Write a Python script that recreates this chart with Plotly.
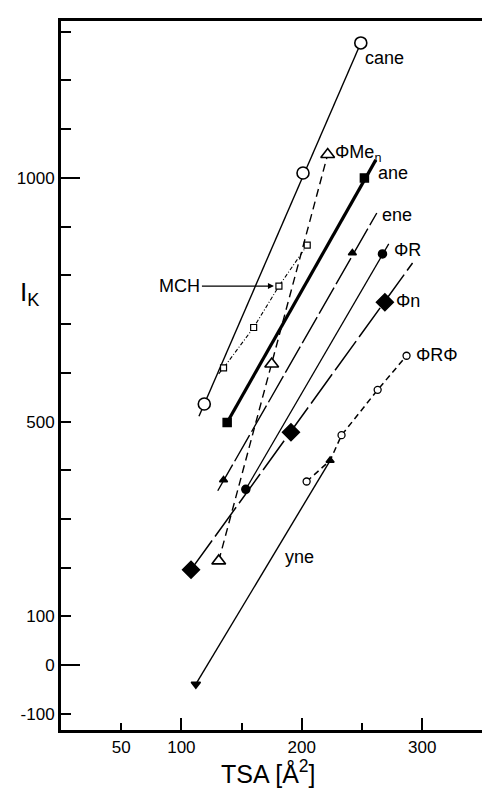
import plotly.graph_objects as go

# ---------------- data ----------------
# marker points of each series: TSA [A^2] and I_K
cane_x = [119, 201, 249]
cane_y = [536, 1010, 1277]
cane_line_x = [114.6, 249]
cane_line_y = [511, 1277]

phimen_x = [131, 175, 221.5]
phimen_y = [214, 618, 1048]
phimen_line_x = [131, 221.5]
phimen_line_y = [214, 1048]

ane_x = [138, 252]
ane_y = [498, 1000]
ane_line_x = [138, 261.5]
ane_line_y = [498, 1037]

ene_x = [135, 242]
ene_y = [380, 846]
ene_line_x = [130.2, 262.3]
ene_line_y = [358, 928]

phir_x = [153.5, 267]
phir_y = [361, 844]
phir_line_x = [153.5, 272.2]
phir_line_y = [361, 864.5]

phin_x = [108, 191, 269]
phin_y = [196, 478, 745]
phin_line_x = [108, 292]
phin_line_y = [196, 825.5]

phirphi_x = [204, 233, 263, 287]
phirphi_y = [377, 472, 565, 635]
phirphi_line_x = [204, 223.5, 233, 263, 287]
phirphi_line_y = [377, 420, 472, 565, 635]

mch_x = [135, 160, 181, 204.5]
mch_y = [610, 693, 778, 862]
mch_line_x = [131, 135, 160, 181, 204.5]
mch_line_y = [598, 610, 693, 778, 862]

yne_x = [112, 223.5]
yne_y = [-39, 420]

# ticks
x_short_labeled = [50]
x_short_unlabeled = [150, 250]
x_long_labeled = [100, 200, 300]
y_short_labeled = [-100, 100, 500]
y_short_unlabeled = [200, 300, 400, 600, 700, 800, 900, 1100, 1200, 1300]
y_long_labeled = [0, 1000]

X_RANGE = [0, 358.8]
Y_RANGE = [-133, 1322]

FONT = "Liberation Sans, Arial, sans-serif"
BLACK = "black"

fig = go.Figure()


def add_line(xs, ys, width=1.4, dash="solid"):
    fig.add_trace(go.Scatter(x=xs, y=ys, mode="lines",
                             line=dict(color=BLACK, width=width, dash=dash),
                             hoverinfo="skip", showlegend=False))


def add_markers(xs, ys, symbol, size, fill=BLACK, lw=1.5):
    fig.add_trace(go.Scatter(x=xs, y=ys, mode="markers",
                             marker=dict(symbol=symbol, size=size, color=fill,
                                         line=dict(color=BLACK, width=lw)),
                             showlegend=False))


# lines
add_line(cane_line_x, cane_line_y, 1.4)
add_line(phimen_line_x, phimen_line_y, 1.4, "8px,5px")
add_line(ane_line_x, ane_line_y, 3.2)
add_line(ene_line_x, ene_line_y, 1.4, "30px,4px")
add_line(phir_line_x, phir_line_y, 1.3)
add_line(phin_line_x, phin_line_y, 1.5, "36px,5px")
add_line(phirphi_line_x, phirphi_line_y, 1.5, "6px,4px")
add_line(mch_line_x, mch_line_y, 1.1, "4px,2px,1px,2px")
add_line(yne_x, yne_y, 1.4)

# markers
add_markers(cane_x, cane_y, "circle", 12, "white", 1.6)
add_markers(phimen_x, phimen_y, "triangle-up", 12, "white", 1.6)
add_markers(ane_x, ane_y, "square", 8)
add_markers(ene_x, ene_y, "triangle-up", 7)
add_markers(phir_x, phir_y, "circle", 8)
add_markers(phin_x, phin_y, "diamond", 13)
add_markers(phirphi_x, phirphi_y, "circle", 7, "white", 1.3)
add_markers(mch_x, mch_y, "square", 6, "white", 1.2)
add_markers(yne_x[:1], yne_y[:1], "triangle-down", 8)
add_markers(yne_x[1:], yne_y[1:], "triangle-up", 7)

# overlay axes carrying the longer ticks
fig.add_trace(go.Scatter(x=[None], y=[None], xaxis="x2", yaxis="y2",
                         mode="markers", showlegend=False, hoverinfo="skip"))

# series labels, anchored to their end points with pixel shifts
labels = [
    ("cane", cane_x[-1], cane_y[-1], 2, -15),
    ("ΦMe<sub>n</sub>", phimen_x[-1], phimen_y[-1], 5, 1),
    ("ane", ane_x[-1], ane_y[-1], 12, 5),
    ("ene", ene_line_x[-1], ene_line_y[-1], 3, -2),
    ("ΦR", phir_x[-1], phir_y[-1], 10, 4),
    ("Φn", phin_x[-1], phin_y[-1], 9, 1),
    ("ΦRΦ", phirphi_x[-1], phirphi_y[-1], 7, 1),
    ("yne", yne_x[-1], yne_y[-1], -47, -96),
]
for text, x, y, dx, dy in labels:
    fig.add_annotation(x=x, y=y, text=text, showarrow=False,
                       xanchor="left", yanchor="middle", xshift=dx, yshift=dy,
                       font=dict(family=FONT, size=18, color=BLACK))

fig.add_annotation(x=mch_x[2], y=mch_y[2], text="MCH", showarrow=True,
                   ax=-99, ay=0, arrowhead=2, arrowsize=1, arrowwidth=1.2,
                   standoff=5, arrowcolor=BLACK,
                   font=dict(family=FONT, size=18, color=BLACK))

# axis titles
fig.add_annotation(xref="paper", yref="paper", x=-0.073, y=0.616,
                   text="I<sub>K</sub>", showarrow=False,
                   xanchor="center", yanchor="middle",
                   font=dict(family=FONT, size=26, color=BLACK))
fig.add_annotation(xref="paper", yref="paper", x=0.481, y=-0.084,
                   text="TSA [Å<sup>2</sup>]", showarrow=False,
                   xanchor="center", yanchor="bottom",
                   font=dict(family=FONT, size=25, color=BLACK))

axis_common = dict(showgrid=False, zeroline=False, ticks="inside",
                   tickcolor=BLACK, tickwidth=2, showline=True, linewidth=3,
                   linecolor=BLACK, tickmode="array",
                   tickfont=dict(family=FONT, size=17, color=BLACK))

fig.update_layout(
    width=490, height=788,
    margin=dict(l=53, r=2, t=13, b=66),
    paper_bgcolor="white", plot_bgcolor="white",
    font=dict(family=FONT, size=17, color=BLACK),
    xaxis=dict(range=X_RANGE, tickvals=x_short_labeled,
               ticktext=[str(v) for v in x_short_labeled], ticklen=7,
               mirror=True,
               minor=dict(tickvals=x_short_unlabeled, ticklen=7, tickwidth=2,
                          ticks="inside", tickcolor=BLACK, showgrid=False),
               **axis_common),
    yaxis=dict(range=Y_RANGE, tickvals=y_short_labeled,
               ticktext=[str(v) for v in y_short_labeled], ticklen=10,
               mirror=True,
               minor=dict(tickvals=y_short_unlabeled, ticklen=10, tickwidth=2,
                          ticks="inside", tickcolor=BLACK, showgrid=False),
               **axis_common),
    xaxis2=dict(range=X_RANGE, overlaying="x", anchor="y2", side="bottom",
                tickvals=x_long_labeled,
                ticktext=[str(v) for v in x_long_labeled], ticklen=12,
                **axis_common),
    yaxis2=dict(range=Y_RANGE, overlaying="y", anchor="x2", side="left",
                tickvals=y_long_labeled,
                ticktext=[str(v) for v in y_long_labeled], ticklen=19,
                **axis_common),
)

fig.write_html("out.html")
